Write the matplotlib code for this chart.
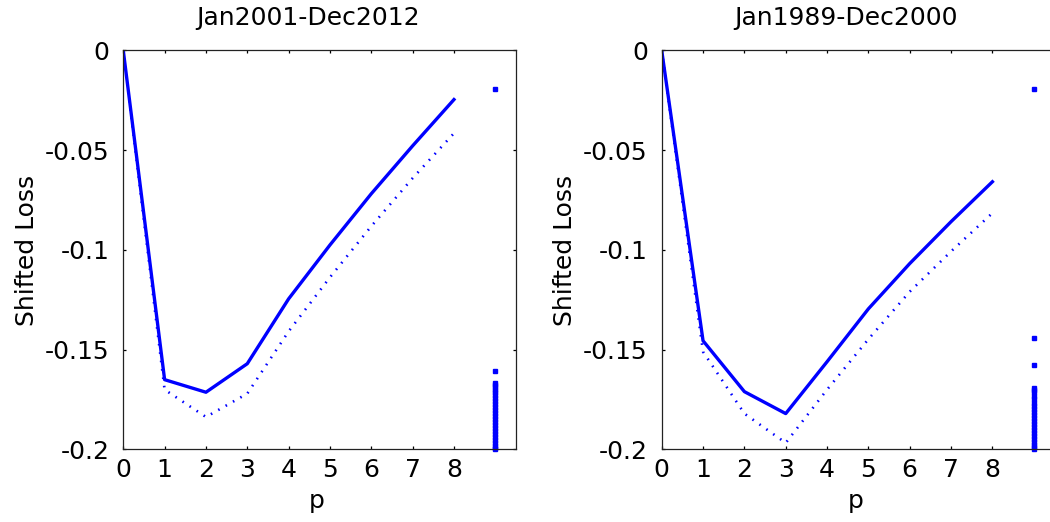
import matplotlib
matplotlib.use("Agg")
import matplotlib.pyplot as plt

plt.rcParams['font.family'] = ['DejaVu Sans']
plt.rcParams['axes.unicode_minus'] = False

# ---- data ----
p = [0, 1, 2, 3, 4, 5, 6, 7, 8]

titles = ["Jan2001-Dec2012", "Jan1989-Dec2000"]

left_solid = [0.0, -0.165, -0.1713, -0.157, -0.1245, -0.0975, -0.0718, -0.0478, -0.0246]
left_dotted = [0.0, -0.170, -0.1837, -0.172, -0.1408, -0.1137, -0.0881, -0.0640, -0.0415]

right_solid = [0.0, -0.1455, -0.171, -0.182, -0.156, -0.1295, -0.1068, -0.0858, -0.0658]
right_dotted = [0.0, -0.151, -0.182, -0.1967, -0.170, -0.1447, -0.1209, -0.1007, -0.0815]

column_x = 9
left_column = [-0.0195, -0.1605, -0.1668, -0.1678, -0.1688, -0.1700, -0.1712, -0.1725,
               -0.1740, -0.1755, -0.1770, -0.1785, -0.1800, -0.1815, -0.1830, -0.1845,
               -0.1860, -0.1875, -0.1890, -0.1905, -0.1920, -0.1935, -0.1950, -0.1965,
               -0.1980, -0.1995, -0.2000]
right_column = [-0.0195, -0.1443, -0.1578, -0.1693, -0.1703, -0.1713, -0.1730, -0.1748,
                -0.1765, -0.1780, -0.1795, -0.1810, -0.1825, -0.1840, -0.1855, -0.1870,
                -0.1885, -0.1900, -0.1915, -0.1930, -0.1945, -0.1960, -0.1975, -0.1990,
                -0.2000]

xticks = [0, 1, 2, 3, 4, 5, 6, 7, 8]
yticks = [0, -0.05, -0.1, -0.15, -0.2]
yticklabels = ["0", "-0.05", "-0.1", "-0.15", "-0.2"]

# ---- figure ----
fig = plt.figure(figsize=(10.5, 5.22), dpi=100)
positions = [[0.1174, 0.1389, 0.374, 0.7644], [0.6302, 0.1389, 0.374, 0.7644]]
solids = [left_solid, right_solid]
dotteds = [left_dotted, right_dotted]
columns = [left_column, right_column]

blue = (0, 0, 1)
fs = 18

for i in range(2):
    ax = fig.add_axes(positions[i])
    ax.plot(p, solids[i], color=blue, lw=2.4, solid_joinstyle='round')
    ax.plot(p, dotteds[i], color=blue, lw=1.9, linestyle=(0, (0.6, 2.6)),
            dash_capstyle='butt')
    ax.plot([column_x] * len(columns[i]), columns[i], linestyle='none',
            marker='s', ms=3.3, color=blue, clip_on=False)

    ax.set_xlim(0, 9.5)
    ax.set_ylim(-0.2, 0)
    ax.set_xticks(xticks)
    ax.set_xticklabels([str(t) for t in xticks])
    ax.set_yticks(yticks)
    ax.set_yticklabels(yticklabels)
    ax.tick_params(direction='in', length=2.5, width=0.9, top=True, right=True,
                   labelsize=fs, colors='black')
    ax.tick_params(axis='x', pad=6)
    ax.tick_params(axis='y', pad=10)
    for s in ax.spines.values():
        s.set_linewidth(0.9)
        s.set_color('#222222')

    ax.set_title(titles[i], fontsize=fs, x=0.47, pad=18)
    ax.set_xlabel("p", fontsize=fs)
    ax.xaxis.set_label_coords(0.493, -0.1)
    ax.set_ylabel("Shifted Loss", fontsize=fs)
    ax.yaxis.set_label_coords(-0.215, 0.5)

fig.savefig("out.png", dpi=100)
